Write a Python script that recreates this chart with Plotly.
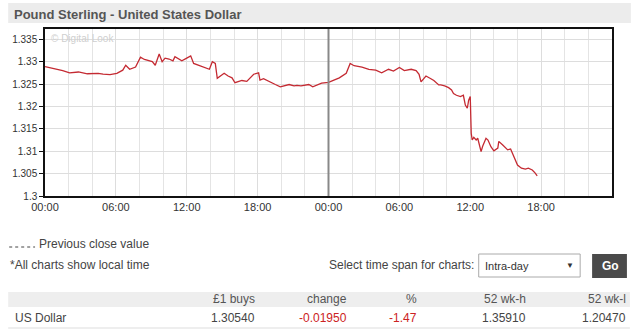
import plotly.graph_objects as go

DAY1 = "2017-11-13"
DAY2 = "2017-11-14"
DAY3 = "2017-11-15"

day1_times = ["00:00","00:40","01:05","01:30","02:05","02:50","03:35","04:30","04:55","05:30",
              "06:05","06:35","06:50","07:10","07:40","08:05","08:25","08:50","09:05","09:20",
              "09:40","09:55","10:10","10:30","10:50","11:00","11:25","11:35","12:00","12:20",
              "12:35","13:00","13:20","13:35","13:55","14:10","14:25","14:35","14:55","15:10",
              "15:30","15:50","16:05","16:25","16:40","17:05","17:25","17:40","18:05","18:12",
              "18:30","18:55","19:10","19:30","19:55","20:20","20:40","21:05","21:20","21:40",
              "22:20","22:40","23:05","23:25"]
day1_values = [1.3289,1.3285,1.3283,1.3280,1.3275,1.3277,1.3273,1.3274,1.3272,1.3271,
               1.3274,1.3281,1.3292,1.3283,1.3288,1.3310,1.3305,1.3302,1.3300,1.3292,
               1.3317,1.3300,1.3308,1.3306,1.3302,1.3311,1.3304,1.3302,1.3308,1.3313,
               1.3296,1.3292,1.3289,1.3286,1.3283,1.3300,1.3296,1.3263,1.3270,1.3274,
               1.3268,1.3264,1.3253,1.3256,1.3258,1.3256,1.3264,1.3272,1.3275,1.3259,
               1.3262,1.3256,1.3252,1.3249,1.3244,1.3246,1.3249,1.3246,1.3247,1.3246,
               1.3249,1.3244,1.3248,1.3252]
day2_times = ["00:00","00:30","00:55","01:30","01:50","02:10","02:50","03:25","04:00","04:30",
              "05:05","05:30","06:00","06:25","07:00","07:25","07:40","07:50","08:15","08:40",
              "08:55","09:20","09:30","09:50","10:10","10:25","10:35","10:50","11:10","11:25",
              "11:35","11:45","11:52","12:00","12:05","12:10","12:18","12:30","12:38","12:55",
              "13:03","13:20","13:30","13:45","14:00","14:20","14:25","14:45","15:10","15:25",
              "15:35","15:50","16:00","16:20","16:40","16:55","17:15","17:30","17:40"]
day2_values = [1.3254,1.3260,1.3264,1.3274,1.3296,1.3291,1.3288,1.3283,1.3281,1.3275,
               1.3283,1.3279,1.3287,1.3280,1.3283,1.3280,1.3272,1.3255,1.3268,1.3262,
               1.3258,1.3248,1.3248,1.3246,1.3242,1.3237,1.3229,1.3225,1.3222,1.3225,
               1.3203,1.3196,1.3214,1.3222,1.3140,1.3125,1.3131,1.3125,1.3129,1.3099,
               1.3111,1.3129,1.3125,1.3110,1.3101,1.3107,1.3122,1.3114,1.3103,1.3105,
               1.3095,1.3080,1.3069,1.3062,1.3060,1.3062,1.3058,1.3051,1.3045]

x_tick_times = [DAY1 + " 00:00", DAY1 + " 06:00", DAY1 + " 12:00", DAY1 + " 18:00",
                DAY2 + " 00:00", DAY2 + " 06:00", DAY2 + " 12:00", DAY2 + " 18:00"]
x_tick_labels = ["00:00", "06:00", "12:00", "18:00", "00:00", "06:00", "12:00", "18:00"]
y_tick_vals = [1.3, 1.305, 1.31, 1.315, 1.32, 1.325, 1.33, 1.335]
y_tick_labels = ["1.3", "1.305", "1.31", "1.315", "1.32", "1.325", "1.33", "1.335"]

title_text = "Pound Sterling - United States Dollar"
table_headers = ["£1 buys", "change", "%", "52 wk-h", "52 wk-l"]
table_row_name = "US Dollar"
table_row_values = ["1.30540", "-0.01950", "-1.47", "1.35910", "1.20470"]
table_row_colors = ["#444444", "#cc2222", "#cc2222", "#444444", "#444444"]

times = [DAY1 + " " + t for t in day1_times] + [DAY2 + " " + t for t in day2_times]
values = day1_values + day2_values

W, H = 640, 336
L, R, T, B = 42, 612, 29, 196

def px(x):
    return (x - L) / (R - L)

def py(y):
    return (B - y) / (B - T)

FONT = "Arial, Liberation Sans, sans-serif"

fig = go.Figure()
fig.add_trace(go.Scatter(x=times, y=values, mode="lines",
                         line=dict(color="#c42a32", width=1.3), hoverinfo="skip"))

fig.update_layout(
    width=W, height=H,
    margin=dict(l=L, r=W - R, t=T, b=H - B, pad=0),
    paper_bgcolor="white", plot_bgcolor="white",
    showlegend=False,
    font=dict(family=FONT, color="#333333", size=11),
)
fig.update_xaxes(
    range=[DAY1 + " 00:00", DAY3 + " 00:00"],
    tickvals=x_tick_times, ticktext=x_tick_labels,
    tickfont=dict(size=11, color="#333333"),
    showgrid=True, gridcolor="#dddddd", gridwidth=1,
    minor=dict(dtick=2 * 3600 * 1000, showgrid=True, gridcolor="#e4e4e4", gridwidth=1),
    showline=True, linecolor="#111111", linewidth=1.5, mirror=True,
    ticks="", zeroline=False,
)
fig.update_yaxes(
    range=[1.3, 1.3373],
    tickvals=y_tick_vals, ticktext=y_tick_labels,
    tickfont=dict(size=10, color="#333333"),
    showgrid=True, gridcolor="#dddddd", gridwidth=1,
    showline=True, linecolor="#111111", linewidth=1.5, mirror=True,
    ticks="outside", ticklen=4, tickcolor="#111111", tickwidth=1,
    zeroline=False,
)

shapes = []
# previous close / day divider
shapes.append(dict(type="line", xref="x", yref="paper", x0=DAY2 + " 00:00", x1=DAY2 + " 00:00",
                   y0=0, y1=1, line=dict(color="#888888", width=2)))
# title bar
shapes.append(dict(type="rect", xref="paper", yref="paper", x0=px(5), x1=px(631), y0=py(23), y1=py(3),
                   fillcolor="#ececec", line=dict(width=0), layer="below"))
# dropdown box
shapes.append(dict(type="rect", xref="paper", yref="paper", x0=px(478), x1=px(580), y0=py(277), y1=py(254),
                   fillcolor="white", line=dict(color="#aaaaaa", width=1)))
# Go button
shapes.append(dict(type="rect", xref="paper", yref="paper", x0=px(592), x1=px(627), y0=py(278), y1=py(254),
                   fillcolor="#4a4a4a", line=dict(width=0)))
# table header band
shapes.append(dict(type="rect", xref="paper", yref="paper", x0=px(5), x1=px(630), y0=py(307), y1=py(292),
                   fillcolor="#eeeeee", line=dict(width=0), layer="below"))
# row bottom line
shapes.append(dict(type="line", xref="paper", yref="paper", x0=px(5), x1=px(630), y0=py(328), y1=py(328),
                   line=dict(color="#dddddd", width=1)))
# previous close dotted sample
shapes.append(dict(type="line", xref="paper", yref="paper", x0=px(6), x1=px(32), y0=py(247), y1=py(247),
                   line=dict(color="#444444", width=1, dash="dot")))
fig.update_layout(shapes=shapes)

ann = []
def text(x, y, s, size=12, color="#444444", anchor="left", bold=False):
    ann.append(dict(xref="paper", yref="paper", x=px(x), y=py(y), text=("<b>%s</b>" % s) if bold else s,
                    showarrow=False, xanchor=anchor, yanchor="middle",
                    font=dict(family=FONT, size=size, color=color)))

text(9, 14, title_text, size=13, color="#555555", bold=True)
text(46, 38, "© Digital Look", size=10, color="#cfcfcf")
text(34, 244, "Previous close value", size=12, color="#444444")
text(5, 265, "*All charts show local time", size=12, color="#444444")
text(475, 265, "Select time span for charts:", size=12, color="#444444", anchor="right")
text(482, 266, "Intra-day", size=11, color="#333333")
text(570, 265, "▼", size=8, color="#333333", anchor="center")
text(610, 266, "Go", size=12, color="white", anchor="center", bold=True)

header_right = [255, 348, 418, 528, 628]
for xr, h in zip(header_right, table_headers):
    text(xr, 299, h, size=12, color="#555555", anchor="right")
text(10, 318, table_row_name, size=12, color="#444444")
for xr, v, c in zip(header_right, table_row_values, table_row_colors):
    text(xr, 318, v, size=12, color=c, anchor="right")

fig.update_layout(annotations=ann)
fig.write_html("out.html")
